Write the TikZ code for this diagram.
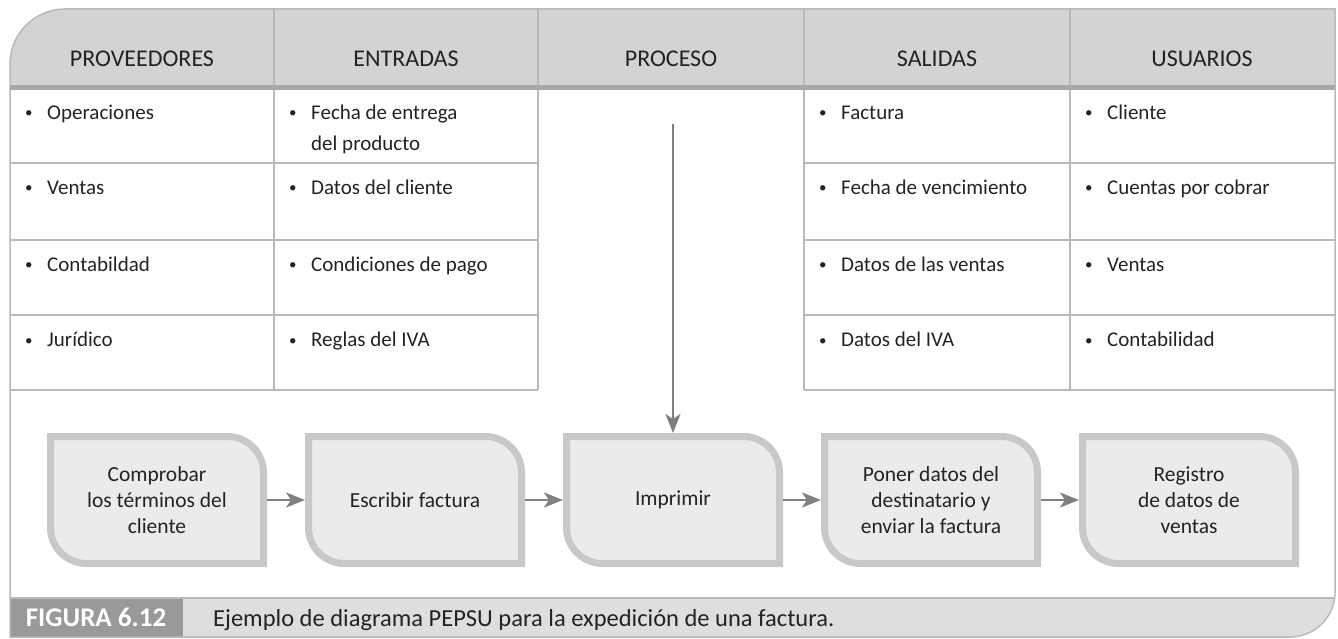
\documentclass[tikz,border=0pt]{standalone}
\usepackage{fontspec}
\setmainfont{Carlito}
\usepackage{tikz}
\usetikzlibrary{arrows.meta, positioning, backgrounds}
\definecolor{hdrgray}{RGB}{211,211,211}
\definecolor{linegray}{RGB}{185,185,185}
\definecolor{hdrline}{RGB}{168,168,168}
\definecolor{procfill}{RGB}{235,235,235}
\definecolor{procedge}{RGB}{200,200,200}
\definecolor{flowgray}{RGB}{128,128,128}
\definecolor{capdark}{RGB}{153,153,153}
\definecolor{caplight}{RGB}{222,222,222}
\definecolor{inkgray}{RGB}{35,35,35}

\begin{document}
\begin{tikzpicture}[x=1pt, y=1pt,
        font=\fontsize{21}{31}\selectfont, text=inkgray,
        hdr/.style={inner sep=0pt, font=\fontsize{24}{28}\selectfont},
        item/.style={anchor=base west, inner sep=0pt},
        proc/.style={minimum width=213pt, minimum height=127pt, inner sep=0pt,
                     outer sep=0pt, align=center, font=\fontsize{21.5}{26}\selectfont},
        procline/.style={line width=7pt, draw=procedge, fill=procfill},
        grid/.style={line width=2.5pt, draw=linegray},
        flow/.style={-{Stealth[length=19pt, width=15pt, inset=5pt]}, line width=2.5pt,
                     draw=flowgray, shorten <=3.5pt, shorten >=3.5pt}
      ]
      \useasboundingbox (0,0) rectangle (1338,638);
      \newcommand{\bul}{\makebox[22pt][l]{\raisebox{2pt}{\fontsize{15}{15}\selectfont\textbullet}}}

      % frame, header band and caption band
      \fill[hdrgray] (10,550) -- (10,574) arc[start angle=180, end angle=90, radius=55]
        -- (1335,629) -- (1335,550) -- cycle;
      \fill[caplight] (10,40) -- (1335,40) -- (1335,46)
        arc[start angle=0, end angle=-90, radius=45] -- (10,1) -- cycle;
      \fill[capdark] (10,1) rectangle (183,40);
      \draw[line width=1.5pt, draw=linegray] (10,1) -- (10,574)
        arc[start angle=180, end angle=90, radius=55] -- (1335,629) -- (1335,46)
        arc[start angle=0, end angle=-90, radius=45] -- cycle;
      \draw[grid] (10,40) -- (1335,40);

      % table lines
      \foreach \x in {274,538,804,1070}
        \draw[grid] (\x,629) -- (\x,248);
      \foreach \y in {475,398,323,248} {
        \draw[grid] (10,\y) -- (538,\y);
        \draw[grid] (804,\y) -- (1335,\y);
      }
      \draw[line width=5pt, draw=hdrline] (10,550) -- (1335,550);

      % header
      \node[hdr] (hprov) at (142,579) {PROVEEDORES};
      \node[hdr] (hentr) at (406,579) {ENTRADAS};
      \node[hdr] (hproc) at (671,579) {PROCESO};
      \node[hdr] (hsali) at (937,579) {SALIDAS};
      \node[hdr] (husua) at (1202,579) {USUARIOS};

      % proveedores
      \node[item] (prov1) at (25,518) {\bul Operaciones};
      \node[item] (prov2) at (25,443) {\bul Ventas};
      \node[item] (prov3) at (25,366) {\bul Contabildad};
      \node[item] (prov4) at (25,291) {\bul Jurídico};
      % entradas
      \node[item] (entr1) at (289,518) {\bul\begin{tabular}[t]{@{}l@{}}Fecha de entrega\\del producto\end{tabular}};
      \node[item] (entr2) at (289,443) {\bul Datos del cliente};
      \node[item] (entr3) at (289,366) {\bul Condiciones de pago};
      \node[item] (entr4) at (289,291) {\bul Reglas del IVA};
      % salidas
      \node[item] (sali1) at (819,518) {\bul Factura};
      \node[item] (sali2) at (819,443) {\bul Fecha de vencimiento};
      \node[item] (sali3) at (819,366) {\bul Datos de las ventas};
      \node[item] (sali4) at (819,291) {\bul Datos del IVA};
      % usuarios
      \node[item] (usua1) at (1085,518) {\bul Cliente};
      \node[item] (usua2) at (1085,443) {\bul Cuentas por cobrar};
      \node[item] (usua3) at (1085,366) {\bul Ventas};
      \node[item] (usua4) at (1085,291) {\bul Contabilidad};

      % proceso
      \node[proc] (cheq) at (157,138) {Comprobar\\los términos del\\cliente};
      \node[proc, right=45pt of cheq] (escr) {Escribir factura};
      \node[proc, right=45pt of escr] (impr) {Imprimir};
      \node[proc, right=45pt of impr] (envi) {Poner datos del\\destinatario y\\enviar la factura};
      \node[proc, right=45pt of envi] (regi) {Registro\\de datos de\\ventas};

      \begin{scope}[on background layer]
        \foreach \b in {cheq,escr,impr,envi,regi}
          \draw[procline] (\b.north west) -- ([xshift=-36pt]\b.north east)
            arc[start angle=90, end angle=0, radius=36pt] -- (\b.south east)
            -- ([xshift=36pt]\b.south west)
            arc[start angle=270, end angle=180, radius=36pt] -- cycle;
      \end{scope}

      \draw[flow] (cheq) -- (escr);
      \draw[flow] (escr) -- (impr);
      \draw[flow] (impr) -- (envi);
      \draw[flow] (envi) -- (regi);
      \coordinate[above=312pt of impr.north] (procin);
      \draw[flow, shorten <=0pt] (procin) -- (impr.north);

      % caption
      \node[anchor=base, inner sep=0pt, text=white, font=\fontsize{27}{30}\selectfont\bfseries]
        (fignum) at (96,12) {FIGURA 6.12};
      \node[anchor=base west, inner sep=0pt, font=\fontsize{24.5}{28}\selectfont] (figtxt) at (213,12)
        {Ejemplo de diagrama PEPSU para la expedición de una factura.};
    \end{tikzpicture}
\end{document}
